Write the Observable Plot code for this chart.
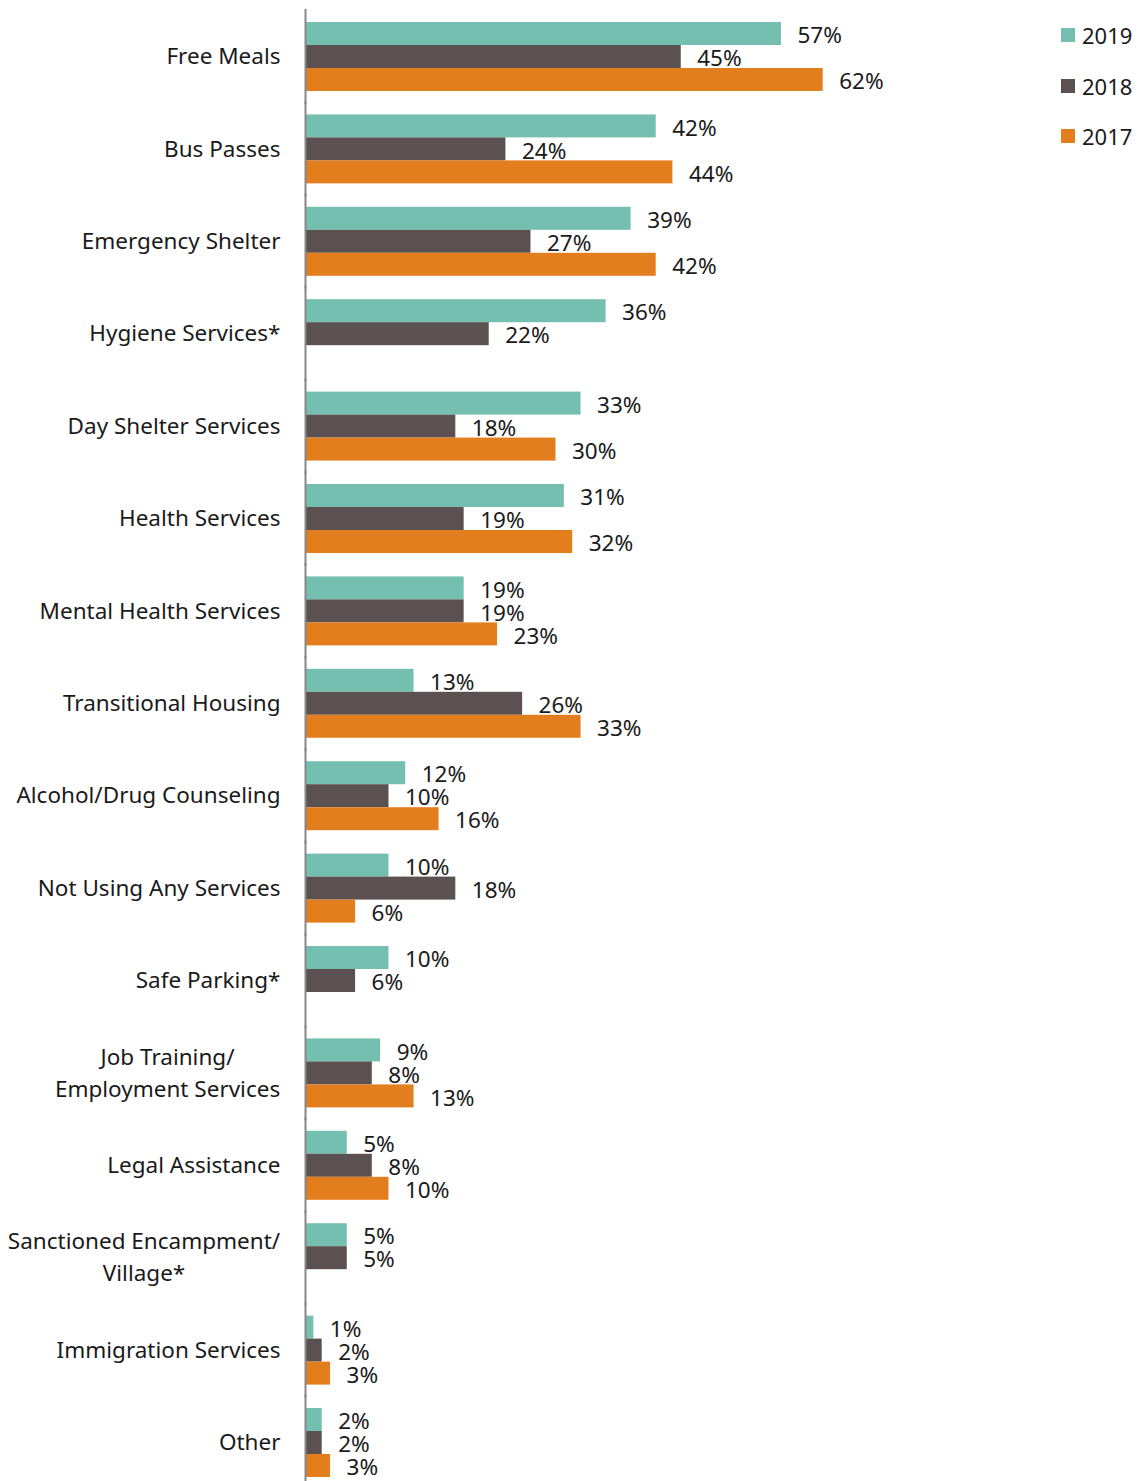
<!DOCTYPE html>
<html>
<head>
<meta charset="utf-8">
<script src="https://cdn.jsdelivr.net/npm/d3@7"></script>
<script src="https://cdn.jsdelivr.net/npm/@observablehq/plot@0.6"></script>
<style>
  html, body { margin: 0; padding: 0; background: #fff; }
  #wrap { position: relative; width: 1140px; height: 1481px; overflow: hidden; font-family: "Noto Sans", sans-serif; color: #1a1a1a; }
  #legend { position: absolute; left: 1061px; top: 10px; font-size: 22px; }
  .row { display: flex; align-items: center; height: 50.5px; }
  .sw { width: 14px; height: 14px; margin-right: 7px; }
</style>
</head>
<body>
<div id="wrap"><div id="chart"></div><div id="legend"></div></div>
<script>
const categories = [
  "Free Meals", "Bus Passes", "Emergency Shelter", "Hygiene Services*",
  "Day Shelter Services", "Health Services", "Mental Health Services",
  "Transitional Housing", "Alcohol/Drug Counseling", "Not Using Any Services",
  "Safe Parking*", "Job Training/\nEmployment Services", "Legal Assistance",
  "Sanctioned Encampment/\nVillage*", "Immigration Services", "Other"
];
const years = ["2019", "2018", "2017"];
const colors = ["#75BFB0", "#5A5150", "#E37E1E"];
const v2019 = [57, 42, 39, 36, 33, 31, 19, 13, 12, 10, 10, 9, 5, 5, 1, 2];
const v2018 = [45, 24, 27, 22, 18, 19, 19, 26, 10, 18, 6, 8, 8, 5, 2, 2];
const v2017 = [62, 44, 42, null, 30, 32, 23, 33, 16, 6, null, 13, 10, null, 3, 3];

const series = [v2019, v2018, v2017];
const rows = [];
categories.forEach((c, i) => {
  years.forEach((y, j) => {
    const v = series[j][i];
    if (v != null) rows.push({category: c, year: y, value: v});
  });
});

const plot = Plot.plot({
  width: 1140,
  height: 1489,
  marginLeft: 305,
  marginRight: 0,
  marginTop: 10,
  marginBottom: 0,
  style: {fontFamily: "Noto Sans", fontSize: "22.5px", color: "#1a1a1a", background: "#fff"},
  x: {domain: [0, 100], axis: null},
  y: {domain: years, padding: 0, axis: null, round: false},
  fy: {domain: categories, paddingInner: 0.2535, paddingOuter: 0.13, axis: null, label: null, round: false},
  color: {domain: years, range: colors},
  marks: [
    Plot.barX(rows, {x: "value", y: "year", fy: "category", fill: "year"}),
    Plot.text(rows, {x: "value", y: "year", fy: "category", text: d => d.value + "%",
      textAnchor: "start", dx: 16, dy: 2, fill: "#1a1a1a", fontSize: 22.5}),
    Plot.ruleX([0], {stroke: "#878787", strokeWidth: 2, insetTop: -13, insetBottom: -13}),
    Plot.axisFy({anchor: "left", tickSize: 0, tickPadding: 25, label: null, dy: -3,
      fontSize: 22.5, lineHeight: 1.42, fill: "#1a1a1a"})
  ]
});
document.getElementById("chart").appendChild(plot);

// center the lines of multi-line category labels within their block
plot.querySelectorAll("text").forEach(t => {
  const spans = t.querySelectorAll("tspan");
  if (spans.length > 1) {
    const w = t.getBBox().width;
    t.setAttribute("text-anchor", "middle");
    spans.forEach(s => s.setAttribute("x", -w / 2));
  }
});

const legend = document.getElementById("legend");
years.forEach((y, j) => {
  const r = document.createElement("div");
  r.className = "row";
  r.innerHTML = `<div class="sw" style="background:${colors[j]}"></div><span>${y}</span>`;
  legend.appendChild(r);
});
</script>
</body>
</html>
